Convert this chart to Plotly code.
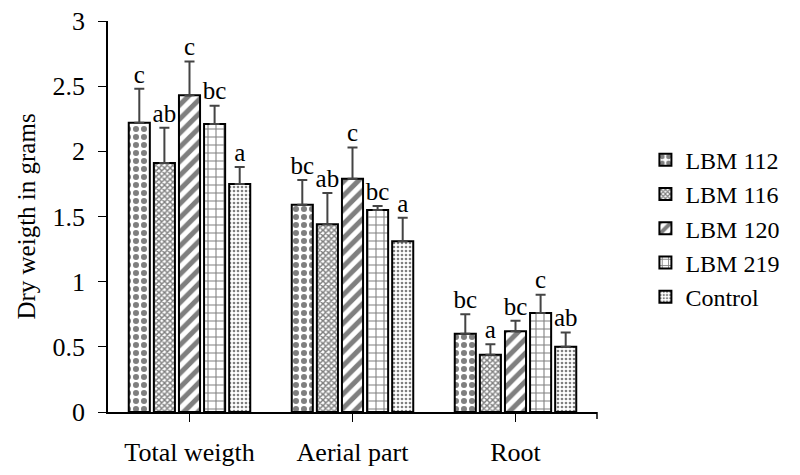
import plotly.graph_objects as go

categories = ['Total weigth', 'Aerial part', 'Root']
series = ['LBM 112', 'LBM 116', 'LBM 120', 'LBM 219', 'Control']

means = {
    'LBM 112': [2.22, 1.59, 0.60],
    'LBM 116': [1.91, 1.44, 0.44],
    'LBM 120': [2.43, 1.79, 0.62],
    'LBM 219': [2.21, 1.55, 0.76],
    'Control': [1.75, 1.31, 0.50],
}
errors = {
    'LBM 112': [0.26, 0.19, 0.15],
    'LBM 116': [0.27, 0.24, 0.08],
    'LBM 120': [0.26, 0.24, 0.08],
    'LBM 219': [0.14, 0.03, 0.14],
    'Control': [0.13, 0.18, 0.11],
}
letters = {
    'LBM 112': ['c', 'bc', 'bc'],
    'LBM 116': ['ab', 'ab', 'a'],
    'LBM 120': ['c', 'c', 'bc'],
    'LBM 219': ['bc', 'bc', 'c'],
    'Control': ['a', 'a', 'ab'],
}

patterns = {
    'LBM 112': dict(shape='.', size=8, solidity=0.45),
    'LBM 116': dict(shape='x', size=4, solidity=0.6),
    'LBM 120': dict(shape='/', size=10, solidity=0.5),
    'LBM 219': dict(shape='+', size=8, solidity=0.25),
    'Control': dict(shape='.', size=4, solidity=0.35),
}

FONT = 'Liberation Serif, Times New Roman, serif'

fig = go.Figure()

for s in series:
    p = patterns[s]
    fig.add_trace(go.Bar(
        x=categories,
        y=means[s],
        name=s,
        offsetgroup=s,
        marker=dict(
            color='white',
            line=dict(color='black', width=2),
            pattern=dict(shape=p['shape'], size=p['size'], solidity=p['solidity'],
                         fgcolor='black', bgcolor='white', fillmode='overlay'),
        ),
        error_y=dict(type='data', array=errors[s], symmetric=False,
                     arrayminus=[0] * len(categories),
                     color='#444444', thickness=2, width=5),
    ))

# significance letters above the error bars
for s in series:
    tops = [m + e for m, e in zip(means[s], errors[s])]
    fig.add_trace(go.Scatter(
        x=categories,
        y=tops,
        mode='text',
        text=letters[s],
        textposition='top center',
        textfont=dict(family=FONT, size=25, color='black'),
        offsetgroup=s,
        showlegend=False,
        hoverinfo='skip',
        cliponaxis=False,
    ))

# the page body adds an 8px offset, so margins are shifted to compensate
fig.update_layout(
    width=800, height=475,
    margin=dict(l=100, r=211, t=13, b=71, autoexpand=False),
    plot_bgcolor='white',
    paper_bgcolor='white',
    barmode='group',
    scattermode='group',
    bargap=0.23,
    bargroupgap=0.16,
    scattergap=0.23,
    font=dict(family=FONT, size=26, color='black'),
    legend=dict(x=1.099, y=0.47, xanchor='left', yanchor='middle',
                font=dict(family=FONT, size=24), tracegroupgap=0,
                itemwidth=30),
    showlegend=True,
)

fig.update_yaxes(
    range=[0, 3], dtick=0.5, automargin=False,
    showline=True, linecolor='black', linewidth=1.5,
    ticks='outside', ticklen=8, tickcolor='black',
    ticklabeloverflow='allow', ticklabelstandoff=8,
    showgrid=False, zeroline=False,
    title=dict(text='Dry weigth in grams', font=dict(family=FONT, size=25), standoff=10),
    tickfont=dict(family=FONT, size=26),
)
fig.update_xaxes(
    automargin=False,
    showline=True, linecolor='black', linewidth=1.5,
    ticks='outside', ticklen=8, tickcolor='black',
    ticklabelstandoff=8,
    showgrid=False,
    tickfont=dict(family=FONT, size=26),
)

# closing tick at the right end of the category axis
fig.add_shape(type='line', xref='paper', yref='paper', x0=1, x1=1, y0=0, y1=-0.018,
              line=dict(color='black', width=1.5))

fig.write_html("out.html")
